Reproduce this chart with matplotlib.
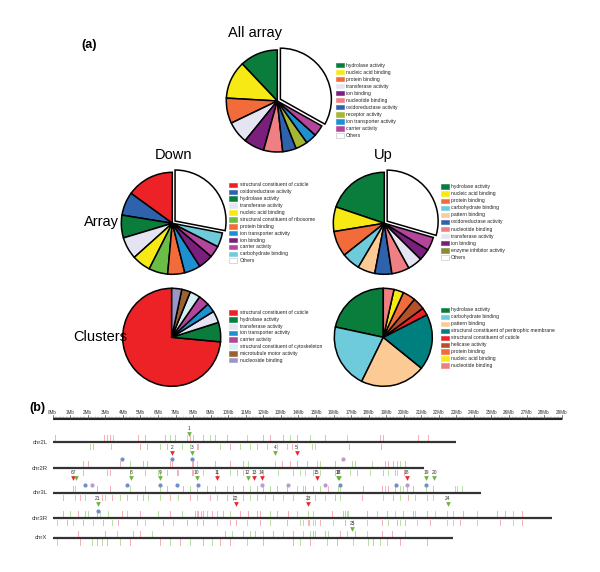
import matplotlib
matplotlib.use("Agg")
import matplotlib.pyplot as plt
from matplotlib.patches import Rectangle

plt.rcParams['font.family'] = ['Liberation Sans', 'DejaVu Sans']

# ---------------- colours per GO category ----------------
COL = {
    "hydrolase activity": "#0a7d3c",
    "nucleic acid binding": "#f7ea14",
    "protein binding": "#f26b3a",
    "transferase activity": "#e4e4f2",
    "ion binding": "#7b1f7e",
    "nucleotide binding": "#f07f84",
    "oxidoreductase activity": "#2f62ad",
    "receptor activity": "#a7b534",
    "ion transporter activity": "#1e90d2",
    "carrier activity": "#b4459c",
    "Others": "#ffffff",
    "structural constituent of cuticle": "#ec2227",
    "structural constituent of ribosome": "#6cbd45",
    "carbohydrate binding": "#6dcbdc",
    "pattern binding": "#fccb95",
    "enzyme inhibitor activity": "#8a8a38",
    "structural constituent of peritrophic membrane": "#007f7f",
    "helicase activity": "#b5502b",
    "structural constituent of cytoskeleton": "#d5eff3",
    "microtubule motor activity": "#9a6230",
    "nucleoside binding": "#9a96c8",
}

# ---------------- pie data (percent) ----------------
all_labels = ["hydrolase activity", "nucleic acid binding", "protein binding",
              "transferase activity", "ion binding", "nucleotide binding",
              "oxidoreductase activity", "receptor activity",
              "ion transporter activity", "carrier activity", "Others"]
all_values = [12, 12, 8, 7, 6.5, 6, 4.3, 3.8, 3.5, 3.5, 33]

down_labels = ["structural constituent of cuticle", "oxidoreductase activity",
               "hydrolase activity", "transferase activity", "nucleic acid binding",
               "structural constituent of ribosome", "protein binding",
               "ion transporter activity", "ion binding", "carrier activity",
               "carbohydrate binding", "Others"]
down_values = [15, 7.4, 7.2, 7, 5.9, 6, 5.4, 5.1, 4.7, 3.7, 4.5, 28]

up_labels = ["hydrolase activity", "nucleic acid binding", "protein binding",
             "carbohydrate binding", "pattern binding", "oxidoreductase activity",
             "nucleotide binding", "transferase activity", "ion binding",
             "enzyme inhibitor activity", "Others"]
up_values = [19.8, 7.8, 8.1, 5.8, 5.5, 5.4, 5.6, 4.6, 3.7, 4.2, 29.5]
up_slice_colors = [COL[l] for l in up_labels]
up_slice_colors[9] = "#b4459c"

cdown_labels = ["structural constituent of cuticle", "hydrolase activity",
                "transferase activity", "ion transporter activity", "carrier activity",
                "structural constituent of cytoskeleton", "microtubule motor activity",
                "nucleoside binding"]
cdown_values = [73.6, 6.4, 3.9, 3.0, 3.6, 3.4, 2.9, 3.3]

cup_labels = ["hydrolase activity", "carbohydrate binding", "pattern binding",
              "structural constituent of peritrophic membrane",
              "structural constituent of cuticle", "helicase activity",
              "protein binding", "nucleic acid binding", "nucleotide binding"]
cup_values = [21.6, 21.1, 21.4, 18.4, 2.5, 4.0, 4.2, 3.2, 3.5]

# ---------------- panel (b) data (Mb) ----------------
chrom_names = ["chr2L", "chr2R", "chr3L", "chr3R", "chrX"]
chrom_lengths = [23.0, 21.15, 24.4, 28.45, 22.8]

up_red = {
    "chr2L": [0.13, 2.93, 3.12, 3.27, 4.88, 5.26, 6.40, 6.97, 7.83, 8.02, 8.59, 9.25, 9.92,
              12.01, 12.39, 13.14, 13.90, 15.5, 18.65, 18.84, 20.83, 21.4],
    "chr2R": [1.75, 2.03, 3.84, 5.17, 5.36, 6.69, 6.78, 7.92, 8.02, 9.25, 10.11, 10.87, 13.05,
              13.52, 13.9, 14.47, 16.08, 17.22, 18.93, 19.12, 19.41, 19.64, 20.07],
    "chr3L": [1.18, 2.51, 3.27, 5.26, 6.5, 7.45, 8.78, 9.25, 10.3, 10.87, 11.63, 12.01,
              12.77, 13.34, 14.28, 14.37, 14.85, 15.71, 17.7, 18.74, 19.12, 19.5, 20.17,
              20.55, 21.69],
    "chr3R": [0.61, 1.46, 1.84, 2.51, 3.93, 4.98, 6.69, 8.11, 8.3, 8.43, 8.59, 9.06, 9.73,
              10.68, 11.15, 11.63, 11.82, 12.77, 13.43, 14.56, 15.89, 16.56, 16.65, 17.89,
              19.03, 19.98, 20.55, 21.31, 23.4, 25.3, 25.77, 26.72],
    "chrX": [1.46, 2.98, 4.6, 4.98, 9.82, 10.87, 11.53, 12.58, 13.71, 14.85, 15.51, 16.37,
             17.22, 18.74, 19.31],
}
up_green = {
    "chr2L": [3.46, 6.69, 7.64, 8.97, 11.06, 13.52, 14.66, 16.75],
    "chr2R": [4.41, 8.21, 11.15, 12.67, 15.04, 15.23, 17.07, 18.17, 19.79],
    "chr3L": [1.27, 4.41, 6.12, 7.83, 8.21, 9.92, 11.25, 12.39, 13.9, 15.23, 16.27, 16.37,
              18.93, 19.79, 19.94, 21.27, 22.92, 23.02, 23.3],
    "chr3R": [0.99, 2.03, 2.7, 3.17, 4.22, 6.02, 7.35, 8.21, 8.78, 9.35, 10.11, 12.39, 13.9,
              14.57, 14.85, 16.75, 16.84, 18.46, 19.5, 20.64, 21.78, 22.45, 22.83, 24.16,
              26.25],
    "chrX": [3.65, 5.64, 10.2, 11.25, 12.01, 13.14, 14.28, 14.66, 14.94, 15.7, 16.75,
             17.89, 20.07],
}
dn_red = {
    "chr2L": [2.32, 4.98, 5.36, 6.5, 8.21, 8.3, 10.11, 11.63, 12.77, 13.62, 16.9, 18.7],
    "chr2R": [1.75, 3.08, 3.27, 5.26, 6.5, 7.07, 7.16, 7.92, 8.02, 9.35, 10.49, 12.01,
              13.71, 14.85, 16.08, 17.32, 18.84, 19.5, 20.02],
    "chr3L": [0.61, 1.56, 2.79, 3.36, 4.22, 5.17, 6.69, 7.83, 8.97, 9.92, 10.87, 11.63,
              12.58, 13.71, 14.94, 16.08, 17.6, 19.41, 20.26, 21.31],
    "chr3R": [0.8, 1.75, 2.89, 3.74, 4.79, 6.31, 7.64, 8.59, 10.11, 10.45, 11.82, 13.34,
              14.57, 14.62, 15.23, 16.65, 18.74, 19.6, 20.07, 21.5, 23.21, 25.49, 26.72],
    "chrX": [1.56, 2.51, 3.08, 4.41, 6.12, 7.26, 8.59, 9.54, 10.11, 12.01, 13.71, 14.66,
             16.18, 18.27, 19.79, 21.31],
}
dn_green = {
    "chr2L": [2.13, 3.33, 6.12, 7.35, 7.83, 9.54, 10.68, 11.25, 12.2, 13.34, 13.9, 14.75,
              14.94],
    "chr2R": [4.41, 6.02, 6.12, 8.59, 10.11, 10.87, 12.86, 14.09, 14.37, 15.23, 16.94,
              18.08, 19.12, 19.6],
    "chr3L": [1.27, 1.84, 2.98, 3.84, 4.79, 5.45, 6.12, 7.16, 8.21, 9.35, 10.3, 11.25,
              12.1, 13.14, 14.47, 15.51, 16.37, 18.84, 19.79, 20.64, 21.69],
    "chr3R": [0.23, 1.18, 2.32, 3.36, 5.26, 6.88, 8.21, 9.35, 11.06, 12.39, 14.09, 14.28,
              14.85, 14.94, 15.99, 17.13, 17.89, 19.12, 19.79, 20.74, 22.45, 22.83, 24.16,
              26.25],
    "chrX": [0.23, 2.22, 2.79, 3.84, 6.69, 7.83, 9.06, 11.06, 14.09, 15.61, 17.13, 17.98,
             18.65, 19.03],
}

tri_num = ["1", "2", "3", "4", "5", "6", "7", "8", "9", "10", "11", "12", "13", "14",
           "15", "16", "17", "18", "19", "20", "21", "22", "23", "24", "25"]
tri_chrom = ["chr2L", "chr2R", "chr2R", "chr2R", "chr2R",
             "chr3L", "chr3L", "chr3L", "chr3L", "chr3L", "chr3L", "chr3L", "chr3L", "chr3L",
             "chr3L", "chr3L", "chr3L", "chr3L", "chr3L", "chr3L",
             "chr3R", "chr3R", "chr3R", "chr3R", "chrX"]
tri_pos = [7.77, 6.78, 7.92, 12.67, 13.9,
           1.18, 1.3, 4.45, 6.12, 8.21, 9.35, 11.11, 11.49, 11.91,
           15.04, 16.27, 16.3, 20.17, 21.27, 21.73,
           2.57, 10.43, 14.57, 22.5, 17.07]
tri_dir = ["g", "r", "g", "g", "r",
           "r", "g", "g", "g", "g", "r", "g", "r", "r",
           "r", "g", "g", "r", "g", "g",
           "g", "r", "r", "g", "g"]

dot_chrom = ["chr2R", "chr2R", "chr2R", "chr2R",
             "chr3L", "chr3L", "chr3L", "chr3L", "chr3L", "chr3L", "chr3L", "chr3L",
             "chr3L", "chr3L", "chr3L", "chr3L", "chr3L", "chr3R"]
dot_pos = [3.93, 6.78, 7.92, 16.56,
           1.84, 2.26, 4.22, 6.12, 7.07, 8.3, 11.95, 13.43,
           15.51, 16.37, 19.54, 20.17, 21.27, 2.57]
dot_kind = ["b", "b", "b", "p",
            "b", "p", "b", "b", "b", "b", "p", "p",
            "p", "b", "b", "p", "b", "b"]

ruler_max = 29

# ---------------- figure ----------------
W, H = 600, 572
fig = plt.figure(figsize=(6, 5.72), dpi=100)


def pie_at(cx, cy, r, values, colors, explode_last):
    ax = fig.add_axes([(cx - r) / W, 1 - (cy + r) / H, 2 * r / W, 2 * r / H])
    explode = [0] * len(values)
    if explode_last:
        explode[-1] = 0.07
    wedges, _ = ax.pie(values, colors=colors, startangle=90, counterclock=True,
                       explode=explode,
                       wedgeprops=dict(edgecolor="black", linewidth=1.1))
    for w in wedges:
        w.set_clip_on(False)
    ax.set_xlim(-1, 1)
    ax.set_ylim(-1, 1)
    ax.set_aspect("auto")
    ax.axis("off")
    return ax


pie_at(277.3, 101, 51, all_values, [COL[l] for l in all_labels], True)
pie_at(172.3, 223.3, 51, down_values, [COL[l] for l in down_labels], True)
pie_at(384.3, 223.3, 51, up_values, up_slice_colors, True)
pie_at(171.7, 337.3, 49, cdown_values, [COL[l] for l in cdown_labels], False)
pie_at(383.3, 337.3, 49, cup_values, [COL[l] for l in cup_labels], False)

over = fig.add_axes([0, 0, 1, 1])
over.set_xlim(0, W)
over.set_ylim(H, 0)
over.axis("off")


def legend_at(x, y0, dy, labels):
    for i, lab in enumerate(labels):
        y = y0 + i * dy
        over.add_patch(Rectangle((x, y - 2.3), 8.3, 4.6, facecolor=COL[lab],
                                 edgecolor="#bbbbbb" if lab == "Others" else COL[lab],
                                 linewidth=0.4))
        over.text(x + 10.5, y, lab, fontsize=3.6, va="center", ha="left", color="#222222")


legend_at(335.7, 65, 7.03, all_labels)
legend_at(229, 185, 6.88, down_labels)
legend_at(440.7, 186.7, 7.06, up_labels)
legend_at(229, 312.7, 6.76, cdown_labels)
legend_at(440.7, 310, 6.96, cup_labels)

over.text(255, 33, "All array", fontsize=10.5, ha="center", va="center")
over.text(174, 155, "Down", fontsize=10.5, ha="center", va="center")
over.text(383, 155, "Up", fontsize=10.5, ha="center", va="center")
over.text(101, 222, "Array", fontsize=10.5, ha="center", va="center")
over.text(100, 337, "Clusters", fontsize=10.5, ha="center", va="center")
over.text(89, 45, "(a)", fontsize=9, fontweight="bold", ha="center", va="center")
over.text(37, 408, "(b)", fontsize=9, fontweight="bold", ha="center", va="center")

# ---------------- panel (b) ----------------
px0, pxmb = 52.7, 17.55
top_px = 395
bx = fig.add_axes([0, 0, 1, (H - top_px) / H])
bx.set_xlim(-px0 / pxmb, (W - px0) / pxmb)
bx.set_ylim(H, top_px)
bx.axis("off")

ruler_y = 419
bx.plot([0, ruler_max], [ruler_y, ruler_y], color="#222222", lw=1.5, solid_capstyle="butt")
bx.plot([0, ruler_max], [ruler_y - 2.5, ruler_y - 2.5], color="#777777", lw=0.4)
for i in range(ruler_max * 5 + 1):
    m = i / 5
    major = (i % 5 == 0)
    bx.plot([m, m], [ruler_y, ruler_y - (4.5 if major else 2.5)], color="#444444",
            lw=0.5 if major else 0.35)
for m in range(ruler_max + 1):
    bx.text(m, 412.3, f"{m}Mb", fontsize=3.3, ha="center", va="center", color="#333333")

row_y = {"chr2L": 442, "chr2R": 468, "chr3L": 493, "chr3R": 518, "chrX": 537.5}
tri_y = {"chr2L": 434.3, "chr2R": 453.3, "chr3L": 478.3, "chr3R": 504, "chrX": 529.3}
dot_y = {"chr2R": 459.3, "chr3L": 485, "chr3R": 510.7}

RED = "#f6aeb4"
GRN = "#b8e0a0"
for name, length in zip(chrom_names, chrom_lengths):
    y = row_y[name]
    for pos in up_red[name]:
        bx.plot([pos, pos], [y - 1.5, y - 7], color=RED, lw=0.7)
    for pos in up_green[name]:
        bx.plot([pos, pos], [y - 1.5, y - 7], color=GRN, lw=0.7)
    for pos in dn_red[name]:
        bx.plot([pos, pos], [y + 1.5, y + 7], color=RED, lw=0.7)
    for pos in dn_green[name]:
        bx.plot([pos, pos], [y + 1.5, y + 7], color=GRN, lw=0.7)
    bx.plot([0, length], [y, y], color="#333333", lw=1.6, solid_capstyle="butt")
    bx.text(-0.3, y, name, fontsize=4.3, ha="right", va="center", color="#333333")

for num, ch, pos, d in zip(tri_num, tri_chrom, tri_pos, tri_dir):
    c = "#e8262c" if d == "r" else "#6cb33f"
    bx.plot(pos, tri_y[ch], marker="v", markersize=3.4, color=c, markeredgewidth=0)
    if num == "7":
        continue
    lab = "67" if num == "6" else num
    bx.text(pos, tri_y[ch] - 6, lab, fontsize=3.5, ha="center", va="center",
            color="#333333")

for ch, pos, k in zip(dot_chrom, dot_pos, dot_kind):
    c = "#6f8fca" if k == "b" else "#b99bcc"
    bx.plot(pos, dot_y[ch], marker="o", markersize=3.0, color=c, markeredgewidth=0)

fig.savefig("out.png", dpi=100)
